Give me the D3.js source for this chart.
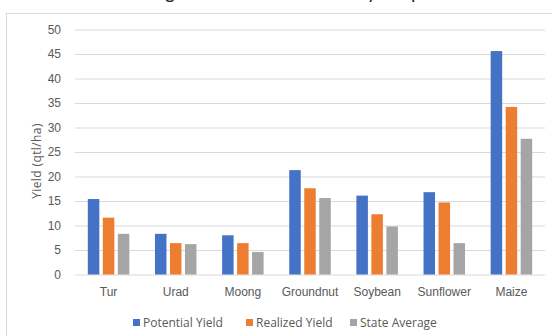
<!DOCTYPE html>
<html>
<head>
<meta charset="utf-8">
<script src="https://cdn.jsdelivr.net/npm/d3@7"></script>
<style>
  html, body { margin: 0; padding: 0; background: #fff; }
  svg { display: block; font-family: "Open Sans", Lato, sans-serif; }
</style>
</head>
<body>
<svg id="chart" width="552" height="336"></svg>
<script>
// Crop yields (qtl/ha)
const crops = ["Tur", "Urad", "Moong", "Groundnut", "Soybean", "Sunflower", "Maize"];
const seriesNames = ["Potential Yield", "Realized Yield", "State Average"];
const potentialYield = [15.4, 8.3, 8.0, 21.3, 16.1, 16.8, 45.6];
const realizedYield  = [11.6, 6.4, 6.4, 17.6, 12.3, 14.7, 34.2];
const stateAverage   = [8.3, 6.2, 4.6, 15.6, 9.8, 6.4, 27.7];
const yTicks = [0, 5, 10, 15, 20, 25, 30, 35, 40, 45, 50];
const colors = ["#4472C4", "#ED7D31", "#A5A5A5"];

const seriesValues = [potentialYield, realizedYield, stateAverage];
const rows = crops.map((c, i) => ({ crop: c, values: seriesNames.map((s, j) => ({ series: s, value: seriesValues[j][i] })) }));

const svg = d3.select("#chart");
const plot = { left: 75, right: 545, top: 29.5, bottom: 274.5 };

// Outer chart frame (extends past the visible area)
svg.append("rect")
  .attr("x", 6.5).attr("y", 13.5)
  .attr("width", 600).attr("height", 400)
  .attr("fill", "none").attr("stroke", "#D9D9D9");

// Title, clipped by the top edge
svg.append("text")
  .attr("x", 280).attr("y", -1)
  .attr("text-anchor", "middle")
  .attr("font-family", "Lato, sans-serif")
  .attr("font-size", 19)
  .attr("fill", "#222")
  .text("Magnitude of Yield Levels by Crop");

const y = d3.scaleLinear().domain([0, 50]).range([plot.bottom, plot.top]);
const x0 = d3.scaleBand().domain(crops).range([plot.left, plot.right]).paddingInner(0).paddingOuter(0);
const groupW = 41.5;
const x1 = d3.scaleBand().domain(seriesNames).range([0, groupW]).paddingInner(3.5 / 15).paddingOuter(0);
const color = d3.scaleOrdinal().domain(seriesNames).range(colors);

// Gridlines + tick labels
const yAxis = d3.axisLeft(y).tickValues(yTicks).tickSize(-(plot.right - plot.left)).tickPadding(14);
const gy = svg.append("g").attr("transform", `translate(${plot.left},0)`).call(yAxis);
gy.select(".domain").remove();
gy.selectAll(".tick line").attr("stroke", "#D9D9D9");
gy.selectAll(".tick text").attr("fill", "#595959").attr("font-size", 12).attr("font-family", "inherit");

// Bars
const groups = svg.append("g").selectAll("g").data(rows).join("g")
  .attr("transform", d => `translate(${x0(d.crop) + (x0.bandwidth() - groupW) / 2},0)`);
groups.selectAll("rect").data(d => d.values).join("rect")
  .attr("x", d => x1(d.series))
  .attr("width", x1.bandwidth())
  .attr("y", d => y(d.value))
  .attr("height", d => y(0) - y(d.value))
  .attr("fill", d => color(d.series));

// Category labels
const xAxis = d3.axisBottom(x0).tickSize(0).tickPadding(13);
const gx = svg.append("g").attr("transform", `translate(0,${plot.bottom})`).call(xAxis);
gx.select(".domain").remove();
gx.selectAll(".tick text").attr("fill", "#595959").attr("font-size", 12).attr("font-family", "inherit");

// Y axis title
svg.append("text")
  .attr("transform", "translate(41,161) rotate(-90)")
  .attr("text-anchor", "middle")
  .attr("fill", "#595959")
  .attr("font-size", 12)
  .attr("letter-spacing", 0.4)
  .text("Yield (qtl/ha)");

// Legend
const legendX = [133, 246, 350];
const legend = svg.append("g").selectAll("g").data(seriesNames).join("g")
  .attr("transform", (d, i) => `translate(${legendX[i]},319)`);
legend.append("rect").attr("width", 7).attr("height", 7).attr("fill", d => color(d));
legend.append("text").attr("x", 10).attr("y", 8)
  .attr("fill", "#595959").attr("font-size", 12)
  .text(d => d);
</script>
</body>
</html>
